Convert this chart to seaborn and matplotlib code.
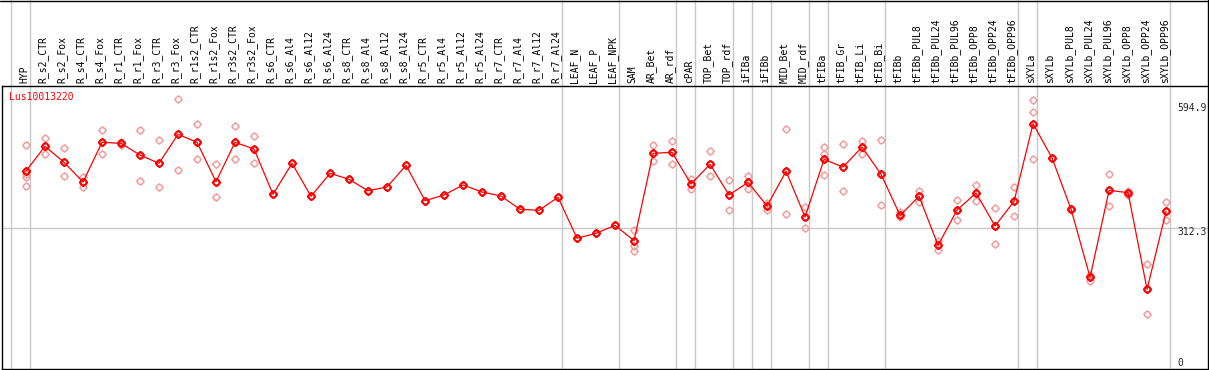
import numpy as np
import pandas as pd
import matplotlib
matplotlib.use("Agg")
import matplotlib.pyplot as plt
import seaborn as sns
from matplotlib.path import Path
from matplotlib.lines import Line2D
from matplotlib.transforms import ScaledTranslation

# ---------------- data ----------------
gene = "Lus10013220"
categories = [
    "HYP", "R_s2_CTR", "R_s2_Fox", "R_s4_CTR", "R_s4_Fox", "R_r1_CTR", "R_r1_Fox",
    "R_r3_CTR", "R_r3_Fox", "R_r1s2_CTR", "R_r1s2_Fox", "R_r3s2_CTR", "R_r3s2_Fox",
    "R_s6_CTR", "R_s6_Al4", "R_s6_Al12", "R_s6_Al24", "R_s8_CTR", "R_s8_Al4",
    "R_s8_Al12", "R_s8_Al24", "R_r5_CTR", "R_r5_Al4", "R_r5_Al12", "R_r5_Al24",
    "R_r7_CTR", "R_r7_Al4", "R_r7_Al12", "R_r7_Al24", "LEAF_N", "LEAF_P", "LEAF_NPK",
    "SAM", "AR_Bet", "AR_rdf", "cPAR", "TOP_Bet", "TOP_rdf", "iFIBa", "iFIBb",
    "MID_Bet", "MID_rdf", "tFIBa", "tFIB_Gr", "tFIB_Li", "tFIB_Bi", "tFIBb",
    "tFIBb_PUL8", "tFIBb_PUL24", "tFIBb_PUL96", "tFIBb_OPP8", "tFIBb_OPP24",
    "tFIBb_OPP96", "sXYLa", "sXYLb", "sXYLb_PUL8", "sXYLb_PUL24", "sXYLb_PUL96",
    "sXYLb_OPP8", "sXYLb_OPP24", "sXYLb_OPP96",
]
means = [
    437.2, 491.1, 456.2, 413.2, 499.8, 497.6, 472.1, 454.0, 517.2, 499.8, 413.9,
    499.8, 485.2, 386.4, 454.0, 382.0, 432.2, 419.1, 394.2, 402.3, 449.6, 372.4,
    384.9, 406.7, 391.4, 382.7, 353.7, 351.5, 379.9, 290.5, 301.4, 318.8, 285.2,
    475.8, 478.0, 408.9, 451.8, 384.9, 412.6, 360.9, 436.6, 336.9, 462.7, 445.9,
    489.5, 430.0, 340.6, 382.0, 275.2, 352.2, 389.2, 317.3, 371.1, 540.4, 465.6,
    353.7, 205.4, 395.1, 389.9, 179.2, 349.3,
]
replicates = [
    [493.9, 430.0, 424.8, 403.8], [508.5, 474.9], [486.7, 425.6], [424.8, 403.0],
    [526.0, 474.9], [501.1, 493.9], [526.0, 416.1], [504.2, 401.7], [594.9, 438.7],
    [539.0, 462.7], [451.8, 379.9], [534.7, 462.7], [513.5, 454.0],
    [], [], [], [], [], [], [], [], [], [], [], [], [], [], [], [], [], [], [],
    [307.9, 273.0, 262.1], [493.3, 458.4], [502.6, 451.8], [420.4, 397.3],
    [480.2, 425.6], [416.9, 351.5], [427.0, 397.3], [368.1, 352.2], [528.1, 343.4],
    [358.7, 312.3], [489.5, 474.3, 427.8], [495.4, 394.2], [503.3, 473.6],
    [504.8, 362.4], [347.1, 336.3], [393.6, 370.3], [284.6, 265.6], [373.3, 330.4],
    [406.7, 371.1], [355.9, 277.4], [401.7, 338.4], [591.4, 565.2, 462.7], [],
    [355.4, 351.1], [210.4, 197.3], [430.7, 360.2], [394.2, 384.9], [233.8, 124.7],
    [369.6, 329.7],
]
group_ends = [-1, 0, 28, 31, 34, 35, 37, 38, 39, 41, 42, 45, 52, 53, 60]
ref_values = [594.9, 312.3, 0]

# ---------------- frames ----------------
pos = np.arange(len(categories))
mean_df = pd.DataFrame({"pos": pos, "value": means})
rep_rows = [(i, v) for i, vals in enumerate(replicates) for v in vals]
rep_df = pd.DataFrame(rep_rows, columns=["pos", "value"])

# ---------------- style ----------------
sns.set_style("white")
plt.rcParams["font.family"] = ["DejaVu Sans Mono", "DejaVu Sans"]

W, H, DPI = 1209, 370, 100
fig = plt.figure(figsize=(W / DPI, H / DPI), dpi=DPI)
ax_left, ax_right = 1.5 / W, 1207.5 / W
ax_bottom, ax_top = 1.0 / H, 284.0 / H
ax = fig.add_axes([ax_left, ax_bottom, ax_right - ax_left, ax_top - ax_bottom])

# custom marker: circle with four small ticks
circ = Path.unit_circle()
tick_paths = [Path([[0, 1], [0, 1.4]], [Path.MOVETO, Path.LINETO]),
              Path([[0, -1], [0, -1.4]], [Path.MOVETO, Path.LINETO]),
              Path([[1, 0], [1.4, 0]], [Path.MOVETO, Path.LINETO]),
              Path([[-1, 0], [-1.4, 0]], [Path.MOVETO, Path.LINETO])]
marker_path = Path.make_compound_path(circ, *tick_paths)

grid_c = "#c8c8c8"
red = "#ff0000"
pink = "#f0a0a0"

# group separators (extend into header)
ax_h_px = (ax_top - ax_bottom) * H
for g in group_ends:
    ax.axvline(g + 0.23, ymin=0, ymax=(ax_h_px + 90) / ax_h_px, color=grid_c,
               lw=1, clip_on=False, zorder=0)
ax.axhline(ref_values[1], color=grid_c, lw=1, zorder=0)

# replicates
ax.plot(rep_df["pos"], rep_df["value"], linestyle="none", marker=marker_path,
        markersize=6.0, markerfacecolor="none", markeredgecolor=pink,
        markeredgewidth=1.1, zorder=2)

# means line + markers
sns.lineplot(data=mean_df, x="pos", y="value", ax=ax, color=red, lw=0.9,
             marker=marker_path, markersize=6.0, markerfacecolor="none",
             markeredgecolor=red, markeredgewidth=1.5, zorder=3)

ax.set_xlim(-1.29, 62.18)
ax.set_ylim(5.45, 622.6)
ax.set_xlabel("")
ax.set_ylabel("")
ax.set_yticks([])
ax.xaxis.tick_top()
ax.set_xticks(pos)
ax.set_xticklabels(categories, rotation=90, fontsize=7)
ax.tick_params(axis="x", length=0, pad=2.2, colors="black")
shift = ScaledTranslation(-2 / DPI, 0, fig.dpi_scale_trans)
for lab in ax.get_xticklabels():
    lab.set_transform(lab.get_transform() + shift)

for s in ax.spines.values():
    s.set_color("black")
    s.set_linewidth(1.0)

# gene label
ax.text(8 / (W * (ax_right - ax_left)), 0.96, gene, transform=ax.transAxes,
        color=red, fontsize=7, ha="left", va="center")

# right reference labels
offsets = [-6.5, -2.4]
for v, off in zip(ref_values[:2], offsets):
    ax.annotate(f"{v}", xy=(0.9747, v), xycoords=("axes fraction", "data"),
                xytext=(0, off), textcoords="offset points", fontsize=7,
                ha="left", va="center")
ax.annotate(f"{ref_values[2]}", xy=(0.9747, 0), xycoords="axes fraction",
            xytext=(0, 4.5), textcoords="offset points", fontsize=7,
            ha="left", va="center")

# header frame lines
fig.add_artist(Line2D([0, 1], [1 - 0.5 / H, 1 - 0.5 / H], transform=fig.transFigure,
                      color="black", lw=1))
fig.add_artist(Line2D([ax_right, ax_right], [ax_top, 1], transform=fig.transFigure,
                      color="black", lw=1))

fig.savefig("out.png", dpi=DPI)
